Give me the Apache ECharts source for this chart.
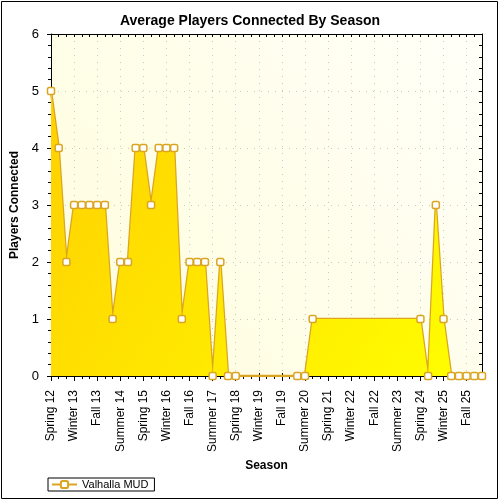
<!DOCTYPE html>
<html>
<head>
<meta charset="utf-8">
<script src="https://cdn.jsdelivr.net/npm/echarts@6/dist/echarts.min.js"></script>
<style>
  html, body { margin: 0; padding: 0; background: #fff; }
  #chart { width: 500px; height: 500px; }
</style>
</head>
<body>
<div id="chart"></div>
<script>
// Seasons on the x axis, one per quarter
var seasons = [
  "Spring 12", "Summer 12", "Fall 12",
  "Winter 13", "Spring 13", "Summer 13", "Fall 13",
  "Winter 14", "Spring 14", "Summer 14", "Fall 14",
  "Winter 15", "Spring 15", "Summer 15", "Fall 15",
  "Winter 16", "Spring 16", "Summer 16", "Fall 16",
  "Winter 17", "Spring 17", "Summer 17", "Fall 17",
  "Winter 18", "Spring 18", "Summer 18", "Fall 18",
  "Winter 19", "Spring 19", "Summer 19", "Fall 19",
  "Winter 20", "Spring 20", "Summer 20", "Fall 20",
  "Winter 21", "Spring 21", "Summer 21", "Fall 21",
  "Winter 22", "Spring 22", "Summer 22", "Fall 22",
  "Winter 23", "Spring 23", "Summer 23", "Fall 23",
  "Winter 24", "Spring 24", "Summer 24", "Fall 24",
  "Winter 25", "Spring 25", "Summer 25", "Fall 25",
  "Winter 26", "Spring 26"
];

// Average players per season (null = no data for that season)
var valhallaMud = [
  5, 4, 2,
  3, 3, 3, 3,
  3, 1, 2, 2,
  4, 4, 3, 4,
  4, 4, 1, 2,
  2, 2, 0, 2,
  0, 0, null, null,
  null, null, null, null,
  null, 0, 0, 1,
  null, null, null, null,
  null, null, null, null,
  null, null, null, null,
  null, 1, 0, 3,
  1, 0, 0, 0,
  0, 0
];

var yMin = 0, yMax = 6, yStep = 1;

var font = "Liberation Sans";
var lineColor = "#DAA520";

var chart = echarts.init(document.getElementById("chart"), null, { renderer: "canvas" });

var baseX = {
  type: "category",
  data: seasons,
  boundaryGap: false,
  gridIndex: 0
};

var option = {
  animation: false,
  backgroundColor: "#fff",
  textStyle: { fontFamily: font },
  title: {
    text: "Average Players Connected By Season",
    left: "center",
    top: 9,
    textStyle: { fontFamily: font, fontSize: 14, fontWeight: "bold", color: "#000" }
  },
  legend: {
    data: ["Valhalla MUD"],
    left: 48,
    top: 478,
    orient: "horizontal",
    borderColor: "#000",
    borderWidth: 1,
    borderRadius: 0,
    padding: [1, 6, 1, 3],
    itemWidth: 25,
    itemHeight: 9,
    itemGap: 5,
    textStyle: { fontFamily: font, fontSize: 11, color: "#000" }
  },
  grid: {
    left: 51,
    right: 18,
    top: 34,
    bottom: 124,
    show: true,
    borderWidth: 0,
    backgroundColor: {
      type: "linear", x: 0, y: 1, x2: 1, y2: 0,
      colorStops: [
        { offset: 0, color: "#FFFDDC" },
        { offset: 1, color: "#FFFFF8" }
      ]
    }
  },
  graphic: [{
    type: "rect",
    shape: { x: 1.5, y: 1.5, width: 496, height: 497 },
    style: { fill: null, stroke: "#000", lineWidth: 1 },
    silent: true,
    z: 100
  }],
  xAxis: [
    Object.assign({}, baseX, {
      position: "bottom",
      name: "Season",
      nameLocation: "middle",
      nameGap: 84,
      nameTextStyle: { fontFamily: font, fontSize: 12, fontWeight: "bold", color: "#000" },
      axisLine: { show: true, lineStyle: { color: "#000", width: 1 } },
      axisTick: { show: true, interval: 0, length: 3, lineStyle: { color: "#000" } },
      axisLabel: {
        interval: 2, rotate: 90, margin: 14,
        fontFamily: font, fontSize: 12, color: "#000"
      },
      splitLine: {
        show: true, interval: 2,
        lineStyle: { color: "#C8C8C8", width: 1, type: [1, 6] }
      }
    }),
    Object.assign({}, baseX, {
      position: "bottom",
      axisLine: { show: false },
      axisTick: { show: true, interval: 2, length: 5, lineStyle: { color: "#000" } },
      axisLabel: { show: false },
      splitLine: { show: false }
    }),
    Object.assign({}, baseX, {
      position: "bottom",
      axisLine: { show: false },
      axisTick: { show: true, inside: true, interval: 2, length: 3, lineStyle: { color: "#000" } },
      axisLabel: { show: false },
      splitLine: { show: false }
    }),
    Object.assign({}, baseX, {
      position: "top",
      axisLine: { show: true, lineStyle: { color: "#000", width: 1 } },
      axisTick: { show: true, inside: true, interval: 0, length: 3, lineStyle: { color: "#000" } },
      axisLabel: { show: false },
      splitLine: { show: false }
    })
  ],
  yAxis: [
    {
      type: "value",
      position: "left",
      min: yMin, max: yMax, interval: yStep,
      name: "Players Connected",
      nameLocation: "middle",
      nameGap: 30,
      nameTextStyle: { fontFamily: font, fontSize: 12, fontWeight: "bold", color: "#000" },
      axisLine: { show: true, lineStyle: { color: "#000", width: 1 } },
      axisTick: { show: true, length: 4, lineStyle: { color: "#000" } },
      minorTick: { show: true, splitNumber: 5, length: 3, lineStyle: { color: "#000" } },
      axisLabel: { margin: 12, fontFamily: font, fontSize: 13, color: "#000" },
      splitLine: { show: true, lineStyle: { color: "#C8C8C8", width: 1, type: [1, 6] } }
    },
    {
      type: "value",
      position: "left",
      min: yMin, max: yMax, interval: yStep,
      axisLine: { show: false },
      axisTick: { show: true, inside: true, length: 3, lineStyle: { color: "#000" } },
      axisLabel: { show: false },
      splitLine: { show: false }
    },
    {
      type: "value",
      position: "right",
      min: yMin, max: yMax, interval: yStep,
      axisLine: { show: true, lineStyle: { color: "#000", width: 1 } },
      axisTick: { show: true, inside: true, length: 3, lineStyle: { color: "#000" } },
      minorTick: { show: true, splitNumber: 5, length: 3, lineStyle: { color: "#000" } },
      axisLabel: { show: false },
      splitLine: { show: false }
    }
  ],
  series: [
    {
      // orange outline, drawn beneath the fill
      name: "Valhalla MUD",
      type: "line",
      data: valhallaMud,
      connectNulls: true,
      xAxisIndex: 0, yAxisIndex: 0,
      z: 2,
      symbol: "roundRect",
      symbolSize: 7,
      showSymbol: false,
      lineStyle: { color: lineColor, width: 2.5 },
      itemStyle: { color: "#fff", borderColor: lineColor, borderWidth: 1.5 },
      areaStyle: { color: "#FFF200", opacity: 1 }
    },
    {
      // gradient fill on top
      name: "fill",
      type: "line",
      data: valhallaMud,
      connectNulls: true,
      xAxisIndex: 0, yAxisIndex: 0,
      z: 3,
      showSymbol: false,
      lineStyle: { width: 0, opacity: 0 },
      areaStyle: {
        opacity: 1,
        color: {
          type: "linear", x: 0, y: 0, x2: 1, y2: 1,
          colorStops: [
            { offset: 0, color: "#FFD000" },
            { offset: 1, color: "#FFFF00" }
          ]
        }
      }
    },
    {
      // markers on top
      name: "marks",
      type: "line",
      data: valhallaMud,
      connectNulls: true,
      xAxisIndex: 0, yAxisIndex: 0,
      z: 4,
      symbol: "roundRect",
      symbolSize: 7,
      showAllSymbol: true,
      lineStyle: { width: 0, opacity: 0 },
      itemStyle: { color: "#fff", borderColor: lineColor, borderWidth: 1.5 }
    }
  ]
};

chart.setOption(option);
</script>
</body>
</html>
